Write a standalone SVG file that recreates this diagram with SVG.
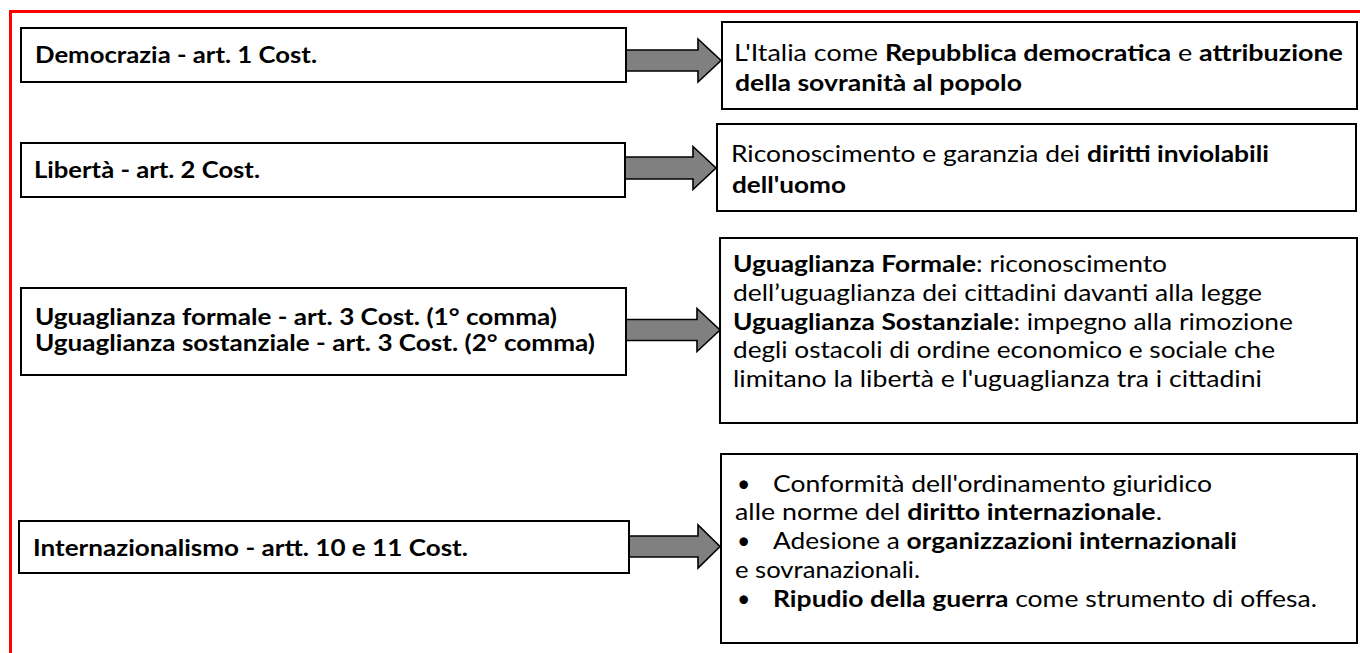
<svg xmlns="http://www.w3.org/2000/svg" width="1360" height="653" viewBox="0 0 1360 653">
<style>
.box{fill:#fff;stroke:#000;stroke-width:2}
.arr{fill:#808080;stroke:#000;stroke-width:1.6;stroke-linejoin:miter}
text{font-family:Lato,"Open Sans","Liberation Sans",sans-serif;font-size:23px;fill:#000}
.b{font-weight:bold}
.s{font-size:22px}
</style>
<rect width="1360" height="653" fill="#fff"/>
<path d="M10.5 653 V11.5 H1360" fill="none" stroke="#ff0000" stroke-width="3"/>
<g id="connectors">
<path class="arr" d="M626 50 H698 V39 L721 60.5 L698 82 V71 H626 Z"/>
<path class="arr" d="M625 157 H693 V146.5 L716 168 L693 189.5 V179 H625 Z"/>
<path class="arr" d="M626 319.5 H697 V308.5 L720 330 L697 351.5 V340.5 H626 Z"/>
<path class="arr" d="M629 536 H698 V525 L720 546.5 L698 568 V557 H629 Z"/>
</g>
<g id="n1">
<rect class="box" x="21" y="28" width="605" height="54"/>
<text class="b" x="35" y="63" textLength="282" lengthAdjust="spacingAndGlyphs">Democrazia - art. 1 Cost.</text>
</g>
<g id="n2">
<rect class="box" x="21" y="143" width="604" height="54"/>
<text class="b" x="34" y="178" textLength="226" lengthAdjust="spacingAndGlyphs">Libertà - art. 2 Cost.</text>
</g>
<g id="n3">
<rect class="box" x="21" y="288" width="605" height="87"/>
<text class="b s" x="35" y="325" textLength="522" lengthAdjust="spacingAndGlyphs">Uguaglianza formale - art. 3 Cost. (1° comma)</text>
<text class="b s" x="35" y="351" textLength="560" lengthAdjust="spacingAndGlyphs">Uguaglianza sostanziale - art. 3 Cost. (2° comma)</text>
</g>
<g id="n4">
<rect class="box" x="19" y="521" width="610" height="52"/>
<text class="b" x="33" y="556" textLength="435" lengthAdjust="spacingAndGlyphs">Internazionalismo - artt. 10 e 11 Cost.</text>
</g>
<g id="r1">
<rect class="box" x="722" y="22" width="635" height="87"/>
<text x="734" y="61" textLength="609" lengthAdjust="spacingAndGlyphs">L'Italia come <tspan class="b">Repubblica democratica</tspan> e <tspan class="b">attribuzione</tspan></text>
<text class="b" x="735" y="91" textLength="287" lengthAdjust="spacingAndGlyphs">della sovranità al popolo</text>
</g>
<g id="r2">
<rect class="box" x="717" y="124" width="639" height="87"/>
<text x="731" y="162" textLength="538" lengthAdjust="spacingAndGlyphs">Riconoscimento e garanzia dei <tspan class="b">diritti inviolabili</tspan></text>
<text class="b" x="732" y="193" textLength="114" lengthAdjust="spacingAndGlyphs">dell'uomo</text>
</g>
<g id="r3">
<rect class="box" x="720" y="238" width="637" height="185"/>
<text x="733" y="272" textLength="434" lengthAdjust="spacingAndGlyphs"><tspan class="b">Uguaglianza Formale</tspan>: riconoscimento</text>
<text x="733" y="301" textLength="529" lengthAdjust="spacingAndGlyphs">dell’uguaglianza dei cittadini davanti alla legge</text>
<text x="733" y="330" textLength="560" lengthAdjust="spacingAndGlyphs"><tspan class="b">Uguaglianza Sostanziale</tspan>: impegno alla rimozione</text>
<text x="733" y="358" textLength="542" lengthAdjust="spacingAndGlyphs">degli ostacoli di ordine economico e sociale che</text>
<text x="733" y="387" textLength="529" lengthAdjust="spacingAndGlyphs">limitano la libertà e l'uguaglianza tra i cittadini</text>
</g>
<g id="r4">
<rect class="box" x="721" y="454" width="636" height="189"/>
<text x="737" y="492">•</text>
<text x="773" y="492" textLength="439" lengthAdjust="spacingAndGlyphs">Conformità dell'ordinamento giuridico</text>
<text x="735" y="520" textLength="427" lengthAdjust="spacingAndGlyphs">alle norme del <tspan class="b">diritto internazionale</tspan>.</text>
<text x="737" y="549">•</text>
<text x="773" y="549" textLength="464" lengthAdjust="spacingAndGlyphs">Adesione a <tspan class="b">organizzazioni internazionali</tspan></text>
<text x="735" y="578" textLength="185" lengthAdjust="spacingAndGlyphs">e sovranazionali.</text>
<text x="737" y="607">•</text>
<text x="773" y="607" textLength="544" lengthAdjust="spacingAndGlyphs"><tspan class="b">Ripudio della guerra</tspan> come strumento di offesa.</text>
</g>
</svg>
